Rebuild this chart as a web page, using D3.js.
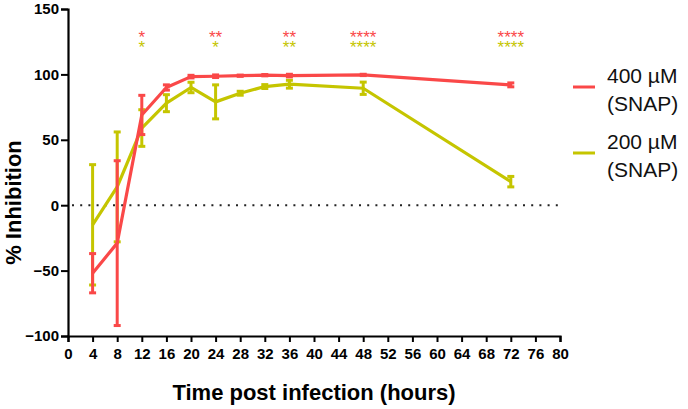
<!DOCTYPE html>
<html><head><meta charset="utf-8">
<script src="https://cdn.jsdelivr.net/npm/d3@7"></script>
<style>
html,body{margin:0;padding:0;background:#fff;}
text{font-family:"Liberation Sans",Arial,Helvetica,sans-serif;}
</style></head>
<body>
<svg id="chart" width="688" height="409"></svg>
<script>
const hours = [4, 8, 12, 16, 20, 24, 28, 32, 36, 48, 72];
const red400Mean = [-52, -29, 69, 90, 98.3, 98.6, 99, 99.4, 99.1, 99.6, 92];
const red400Err  = [15, 63, 15, 2, 1, 1, 0.5, 0.5, 1, 0.5, 1.5];
const yel200Mean = [-15, 14, 59, 78, 90, 79, 85.6, 90.7, 92.5, 89.4, 18];
const yel200Err  = [46, 42, 14, 6.5, 4, 13, 1.5, 1.5, 3, 4.7, 4];
const xTicks = d3.range(0, 81, 4);
const yTicks = [-100, -50, 0, 50, 100, 150];
const sigHours = [12, 24, 36, 48, 72];
const sigRed = ["*", "**", "**", "****", "****"];
const sigYel = ["*", "*", "**", "****", "****"];
const seriesNames = ["400 \u00b5M", "200 \u00b5M"];
const seriesSub = ["(SNAP)", "(SNAP)"];
const RED = "#fa4848", YEL = "#c5c500";

const svg = d3.select("#chart");
const x = d3.scaleLinear().domain([0, 80]).range([68, 560]);
const y = d3.scaleLinear().domain([-100, 150]).range([336, 9]);

// zero dotted line
svg.append("line").attr("x1", x(0)+4).attr("x2", x(80)-2).attr("y1", y(0)).attr("y2", y(0))
  .attr("stroke", "#222").attr("stroke-width", 2).attr("stroke-dasharray", "2,6.2");

// axes
const yAxis = svg.append("g").attr("transform", `translate(${x(0)},0)`)
  .call(d3.axisLeft(y).tickValues(yTicks).tickSize(7).tickPadding(2));
const xAxis = svg.append("g").attr("transform", `translate(0,${y(-100)})`)
  .call(d3.axisBottom(x).tickValues(xTicks).tickSize(6).tickPadding(6));
[yAxis, xAxis].forEach(g => {
  g.select(".domain").attr("stroke", "#000").attr("stroke-width", 2.2);
  g.selectAll(".tick line").attr("stroke", "#000").attr("stroke-width", 2);
  g.selectAll(".tick text").attr("fill", "#000").attr("font-size", 15).attr("font-weight", "bold")
    .attr("font-family", '"Liberation Sans",Arial,sans-serif');
});

// axis titles
svg.append("text").attr("x", (x(0)+x(80))/2).attr("y", 400).attr("text-anchor", "middle")
  .attr("font-size", 22).attr("font-weight", "bold").text("Time post infection (hours)");
svg.append("text").attr("transform", `translate(21,${(y(150)+y(-100))/2+30}) rotate(-90)`)
  .attr("text-anchor", "middle").attr("font-size", 22).attr("font-weight", "bold").text("% Inhibition");

function drawSeries(means, errs, color) {
  const g = svg.append("g");
  const data = hours.map((h, i) => ({h, m: means[i], e: errs[i]}));
  data.forEach(d => {
    g.append("line").attr("x1", x(d.h)).attr("x2", x(d.h)).attr("y1", y(d.m+d.e)).attr("y2", y(d.m-d.e))
      .attr("stroke", color).attr("stroke-width", 3);
    [d.m+d.e, d.m-d.e].forEach(v => g.append("line").attr("x1", x(d.h)-3.5).attr("x2", x(d.h)+3.5)
      .attr("y1", y(v)).attr("y2", y(v)).attr("stroke", color).attr("stroke-width", 3));
  });
  g.append("path").datum(data).attr("fill", "none").attr("stroke", color).attr("stroke-width", 3.2)
    .attr("stroke-linejoin", "round")
    .attr("d", d3.line().x(d => x(d.h)).y(d => y(d.m)));
}
drawSeries(yel200Mean, yel200Err, YEL);
drawSeries(red400Mean, red400Err, RED);

// significance asterisks
sigHours.forEach((h, i) => {
  svg.append("text").attr("x", x(h)).attr("y", 43).attr("text-anchor", "middle")
    .attr("font-size", 17).attr("fill", RED).text(sigRed[i]);
  svg.append("text").attr("x", x(h)).attr("y", 53).attr("text-anchor", "middle")
    .attr("font-size", 17).attr("fill", YEL).text(sigYel[i]);
});

// legend
[RED, YEL].forEach((c, i) => {
  const ly = 87 + i*66;
  svg.append("line").attr("x1", 573).attr("x2", 595).attr("y1", ly).attr("y2", ly)
    .attr("stroke", c).attr("stroke-width", 3);
  svg.append("text").attr("x", 607).attr("y", ly-4).attr("font-size", 21).attr("fill", "#111").text(seriesNames[i]);
  svg.append("text").attr("x", 607).attr("y", ly+24).attr("font-size", 21).attr("fill", "#111").text(seriesSub[i]);
});
</script>
</body></html>
